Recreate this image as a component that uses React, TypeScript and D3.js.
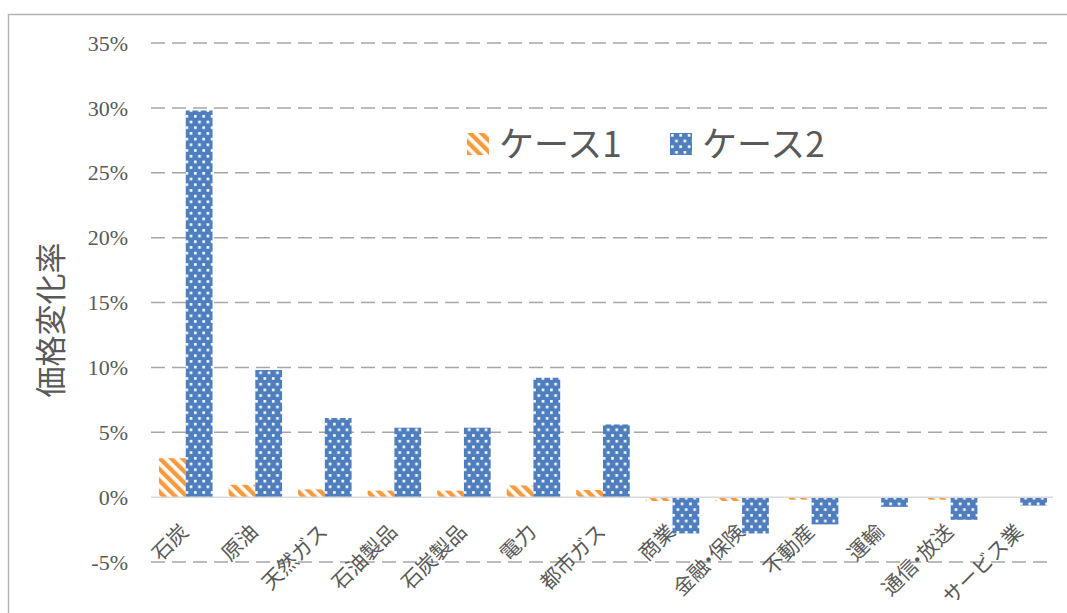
import React from 'react';
import * as d3 from 'd3';

// 産業別の価格変化率（%）
const categories = [
  '石炭', '原油', '天然ガス', '石油製品', '石炭製品', '電力', '都市ガス',
  '商業', '金融・保険', '不動産', '運輸', '通信・放送', 'サービス業',
];
const seriesNames = ['ケース1', 'ケース2'];
const case1 = [3.0, 0.95, 0.6, 0.5, 0.5, 0.9, 0.55, -0.3, -0.3, -0.2, -0.05, -0.2, -0.05];
const case2 = [29.8, 9.8, 6.1, 5.35, 5.35, 9.2, 5.6, -2.8, -2.8, -2.1, -0.75, -1.75, -0.65];
const yTicks = [-5, 0, 5, 10, 15, 20, 25, 30, 35];
const yTitle = '価格変化率';

const W = 1067;
const H = 613;
const plotLeft = 151;
const plotRight = 1055;
const textColor = '#595959';
const sans = "'Noto Sans CJK JP', 'Noto Sans', sans-serif";
const serif = "'Liberation Serif', 'Times New Roman', serif";

// the middle dot is set tighter than a full-width glyph
function CategoryText({ label }: { label: string }) {
  const parts = label.split('・');
  if (parts.length === 1) return <>{label}</>;
  return (
    <>
      <tspan>{parts[0]}</tspan>
      <tspan dx={-6}>・</tspan>
      <tspan dx={-6}>{parts[1]}</tspan>
    </>
  );
}

export default function App() {
  const x0 = d3.scaleBand<string>().domain(categories).range([plotLeft, plotRight]);
  const x1 = d3
    .scaleBand<string>()
    .domain(seriesNames)
    .range([0, x0.step()])
    .paddingInner(0)
    .paddingOuter(0.3);
  const y = d3.scaleLinear().domain([-5, 35]).range([562, 43]);
  const fills = ['url(#stripe)', 'url(#dots)'];
  const series = [case1, case2];

  return (
    <svg
      width={W}
      height={H}
      style={{ position: 'absolute', left: 0, top: 0, background: '#fff' }}
    >
      <defs>
        <pattern
          id="stripe"
          patternUnits="userSpaceOnUse"
          width={8}
          height={8}
          patternTransform="rotate(-45)"
        >
          <rect width={8} height={8} fill="#fff" />
          <rect x={0} y={0} width={4.4} height={8} fill="#F79A3E" />
        </pattern>
        <pattern id="dots" patternUnits="userSpaceOnUse" width={8.4} height={11.4}>
          <rect width={8.4} height={11.4} fill="#4E7EBE" />
          <rect x={1} y={1} width={2.6} height={2.6} fill="#fff" />
          <rect x={5.2} y={6.7} width={2.6} height={2.6} fill="#fff" />
        </pattern>
      </defs>

      {/* chart frame */}
      <rect x={8.5} y={14.5} width={1080} height={640} fill="none" stroke="#b3b3b3" strokeWidth={1.5} />

      {/* gridlines */}
      {yTicks.map((t) =>
        t === 0 ? null : (
          <line
            key={`g${t}`}
            x1={plotLeft}
            x2={plotRight - 2}
            y1={y(t)}
            y2={y(t)}
            stroke="#a6a6a6"
            strokeWidth={1.5}
            strokeDasharray="14,7"
          />
        )
      )}

      {/* y tick labels */}
      {yTicks.map((t) => (
        <text
          key={`t${t}`}
          x={128}
          y={y(t)}
          dy="0.35em"
          textAnchor="end"
          fontFamily={serif}
          fontSize={22}
          fill={textColor}
        >
          {`${t}%`}
        </text>
      ))}

      {/* bars */}
      {categories.map((c, i) => (
        <g key={c} transform={`translate(${x0(c)},0)`}>
          {series.map((s, j) => {
            const v = s[i];
            const top = y(Math.max(0, v));
            const h = Math.abs(y(v) - y(0));
            return (
              <rect
                key={j}
                x={x1(seriesNames[j])}
                y={top}
                width={x1.bandwidth()}
                height={h}
                fill={fills[j]}
              />
            );
          })}
        </g>
      ))}

      {/* zero axis */}
      <line x1={plotLeft} x2={plotRight - 2} y1={y(0)} y2={y(0)} stroke="#d9d9d9" strokeWidth={1.5} />

      {/* category labels */}
      {categories.map((c) => {
        const cx = (x0(c) as number) + x0.bandwidth() / 2;
        return (
          <text
            key={`l${c}`}
            transform={`translate(${cx + 4},${533}) rotate(-45)`}
            textAnchor="end"
            fontFamily={sans}
            fontSize={20.5}
            fill={textColor}
          >
            <CategoryText label={c} />
          </text>
        );
      })}

      {/* y axis title */}
      <text
        transform={`translate(62,320) rotate(-90)`}
        textAnchor="middle"
        fontFamily={sans}
        fontSize={31}
        fill={textColor}
      >
        {yTitle}
      </text>

      {/* legend */}
      {seriesNames.map((n, j) => {
        const lx = j === 0 ? 467 : 670;
        return (
          <g key={n} transform={`translate(${lx},133)`}>
            <rect x={0} y={0} width={22} height={22} fill={fills[j]} />
            <text x={32} y={11} dy="0.36em" fontFamily={sans} fontSize={35} fill={textColor}>
              {n}
            </text>
          </g>
        );
      })}
    </svg>
  );
}
